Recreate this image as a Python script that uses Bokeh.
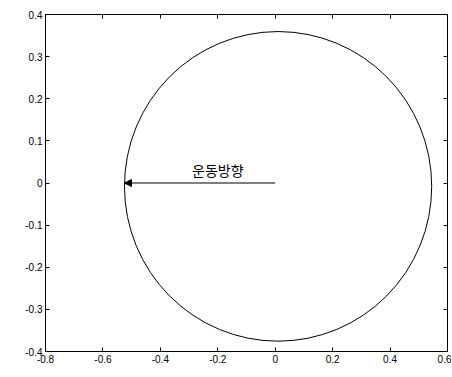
from bokeh.plotting import figure
from bokeh.models import LinearAxis, FixedTicker, Arrow, NormalHead, Range1d
from bokeh.core.properties import value
from bokeh.embed import file_html
from bokeh.resources import INLINE

# data
x_ticks = [-0.8, -0.6, -0.4, -0.2, 0.0, 0.2, 0.4, 0.6]
x_labels = ["-0.8", "-0.6", "-0.4", "-0.2", "0", "0.2", "0.4", "0.6"]
y_ticks = [-0.4, -0.3, -0.2, -0.1, 0.0, 0.1, 0.2, 0.3, 0.4]
y_labels = ["-0.4", "-0.3", "-0.2", "-0.1", "0", "0.1", "0.2", "0.3", "0.4"]
orbit_cx = [0.01]
orbit_cy = [-0.008]
orbit_w = [1.07]
orbit_h = [0.735]
arrow_start = [0.0, 0.0]
arrow_end = [-0.525, 0.0]
label_text = ["운동방향"]
label_x = [-0.2]
label_y = [0.03]

p = figure(frame_width=402, frame_height=337, output_backend="svg", toolbar_location=None,
           x_range=Range1d(-0.8, 0.6), y_range=Range1d(-0.4, 0.4),
           min_border_left=45, min_border_right=4, min_border_top=14, min_border_bottom=20)
p.grid.visible = False
p.outline_line_color = "black"
p.background_fill_color = "white"

for ax in (p.xaxis[0], p.yaxis[0]):
    ax.major_tick_in = 4
    ax.major_tick_out = 0
    ax.minor_tick_in = 0
    ax.minor_tick_out = 0
    ax.major_label_text_font = "Liberation Sans"
    ax.major_label_text_font_size = "10px"
    ax.major_label_text_color = "black"
    ax.axis_line_color = "black"
p.xaxis[0].ticker = FixedTicker(ticks=x_ticks)
p.yaxis[0].ticker = FixedTicker(ticks=y_ticks)
p.xaxis[0].major_label_overrides = {t: l for t, l in zip(x_ticks, x_labels)}
p.yaxis[0].major_label_overrides = {t: l for t, l in zip(y_ticks, y_labels)}
p.xaxis[0].major_label_standoff = 3
p.yaxis[0].major_label_standoff = 3

top = LinearAxis(ticker=FixedTicker(ticks=x_ticks), major_tick_in=4, major_tick_out=0,
                 minor_tick_in=0, minor_tick_out=0, major_label_text_color=None,
                 major_label_text_font_size="1px")
right = LinearAxis(ticker=FixedTicker(ticks=y_ticks), major_tick_in=4, major_tick_out=0,
                   minor_tick_in=0, minor_tick_out=0, major_label_text_color=None,
                   major_label_text_font_size="1px")
p.add_layout(top, "above")
p.add_layout(right, "right")

p.ellipse(x=orbit_cx, y=orbit_cy, width=orbit_w, height=orbit_h,
          fill_color=None, line_color="black", line_width=1)

p.add_layout(Arrow(end=NormalHead(size=7, fill_color="black", line_color="black"),
                   x_start=arrow_start[0], y_start=arrow_start[1],
                   x_end=arrow_end[0], y_end=arrow_end[1],
                   line_color="black", line_width=1))

p.text(x=label_x, y=label_y, text=label_text, text_font=value("Noto Sans CJK KR"),
       text_font_size="14px", text_align="center", text_baseline="middle", text_color="black")

open("out.html", "w").write(file_html(p, INLINE))
